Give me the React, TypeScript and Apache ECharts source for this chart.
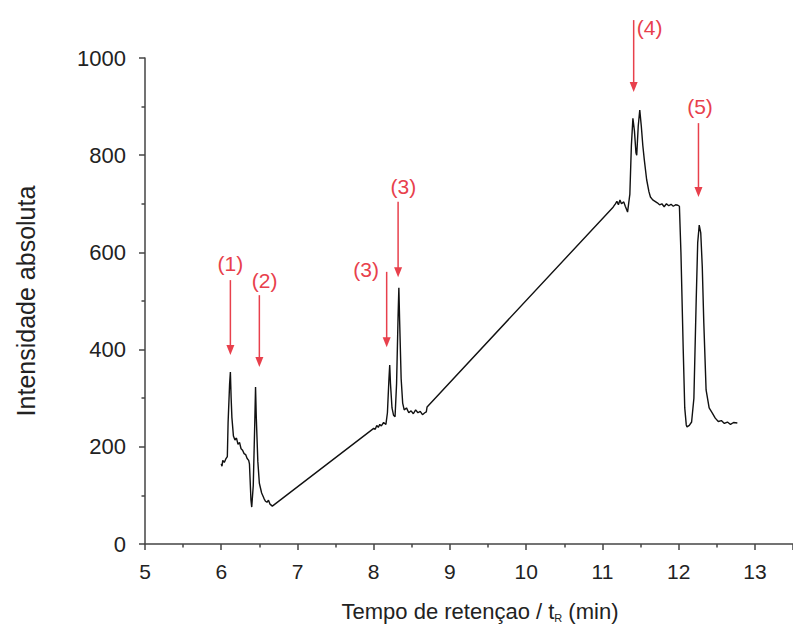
import React, { useEffect, useRef } from "react";
import * as echarts from "echarts";

// Retention time (min) / absolute intensity
const peaks12: [number, number][] = [
  [6.0, 165], [6.01, 160], [6.02, 172], [6.04, 168], [6.06, 175], [6.08, 180],
  [6.09, 250], [6.11, 330], [6.12, 354], [6.13, 300], [6.14, 260], [6.16, 222],
  [6.18, 214], [6.2, 218], [6.22, 205], [6.24, 209], [6.26, 196], [6.28, 193],
  [6.3, 186], [6.32, 184], [6.34, 176], [6.36, 172], [6.37, 165], [6.39, 90],
  [6.4, 76], [6.42, 120], [6.44, 250], [6.45, 323], [6.46, 260], [6.48, 170],
  [6.5, 125], [6.53, 105], [6.56, 94], [6.58, 88], [6.6, 86], [6.62, 90],
  [6.64, 82], [6.67, 78],
];
const peaks3: [number, number][] = [
  [8.0, 238], [8.02, 236], [8.04, 244], [8.06, 240], [8.08, 246], [8.1, 243],
  [8.13, 250], [8.16, 246], [8.18, 270], [8.2, 340], [8.21, 368], [8.22, 330],
  [8.24, 280], [8.26, 265], [8.28, 262], [8.3, 330], [8.32, 470], [8.33, 527],
  [8.34, 460], [8.36, 340], [8.38, 290], [8.4, 276], [8.43, 280], [8.46, 270],
  [8.49, 274], [8.52, 268], [8.55, 276], [8.58, 270], [8.61, 273], [8.64, 266],
  [8.67, 270], [8.69, 272], [8.7, 282],
];
const peaks45: [number, number][] = [
  [11.14, 693], [11.17, 700], [11.19, 705], [11.21, 698], [11.23, 708], [11.25, 700],
  [11.28, 704], [11.3, 695], [11.33, 683], [11.36, 720], [11.38, 820], [11.4, 876],
  [11.42, 850], [11.44, 805], [11.45, 800], [11.47, 860], [11.49, 893], [11.51, 860],
  [11.53, 820], [11.55, 790], [11.58, 750], [11.61, 725], [11.63, 714], [11.66, 708],
  [11.69, 705], [11.72, 702], [11.75, 698], [11.78, 700], [11.81, 694], [11.84, 700],
  [11.87, 696], [11.9, 699], [11.93, 695], [11.96, 698], [11.99, 697], [12.01, 695],
  [12.03, 600], [12.06, 400], [12.08, 280], [12.1, 245], [12.11, 241], [12.14, 244],
  [12.17, 251], [12.2, 300], [12.23, 500], [12.25, 620], [12.27, 656], [12.29, 640],
  [12.31, 570], [12.33, 455], [12.36, 317], [12.4, 280], [12.44, 270], [12.48, 259],
  [12.52, 252], [12.56, 254], [12.6, 248], [12.64, 251], [12.68, 246], [12.72, 250],
  [12.77, 249],
];

// Peak annotations: label, arrow x, arrow start y, arrow tip y, label x, label y (data units)
const annLabels = ["(1)", "(2)", "(3)", "(3)", "(4)", "(5)"];
const annArrowX = [6.12, 6.5, 8.17, 8.32, 11.41, 12.26];
const annArrowFrom = [543, 512, 560, 704, 1078, 866];
const annArrowTo = [389, 364, 405, 549, 930, 714];
const annLabelX = [6.12, 6.57, 7.9, 8.39, 11.62, 12.28];
const annLabelY = [578, 543, 564, 735, 1062, 901];

const xTicks = { min: 5, max: 13.5, interval: 1 };
const yTicks = { min: 0, max: 1000, interval: 200 };

const FONT = "Liberation Sans, Arial, sans-serif";
const RED = "#e8404c";
const INK = "#222";

export default function App() {
  const ref = useRef<HTMLDivElement>(null);
  useEffect(() => {
    if (!ref.current) return;
    const chart = echarts.init(ref.current, undefined, { renderer: "svg" });
    const data = [...peaks12, ...peaks3, ...peaks45];
    const axisCommon = {
      axisLine: { show: true, lineStyle: { color: "#444", width: 1.5 } },
      axisTick: { show: true, length: 6, lineStyle: { color: "#444", width: 1.5 } },
      minorTick: { show: true, splitNumber: 2, length: 3.5, lineStyle: { color: "#444", width: 1.5 } },
      splitLine: { show: false },
    };
    chart.setOption({
      animation: false,
      backgroundColor: "#fff",
      grid: { left: 145, top: 58, width: 651, height: 486, containLabel: false },
      xAxis: {
        type: "value",
        ...xTicks,
        ...axisCommon,
        axisLabel: {
          showMaxLabel: false,
          fontSize: 21,
          fontFamily: FONT,
          color: INK,
          margin: 17,
          formatter: (v: number) => String(v),
        },
        name: "Tempo de retençao / t{sub|R} (min)",
        nameLocation: "middle",
        nameGap: 55,
        nameTextStyle: {
          fontSize: 22,
          fontFamily: FONT,
          color: INK,
          padding: [0, 0, 0, 22],
          rich: {
            sub: { fontSize: 11, fontFamily: FONT, color: INK, verticalAlign: "bottom", padding: [13, 0, 0, 0] },
          },
        },
      },
      yAxis: {
        type: "value",
        ...yTicks,
        ...axisCommon,
        axisLabel: {
          fontSize: 22,
          fontFamily: FONT,
          color: INK,
          margin: 19,
          formatter: (v: number) => String(v),
        },
        name: "Intensidade absoluta",
        nameLocation: "middle",
        nameGap: 107,
        nameTextStyle: { fontSize: 25, fontFamily: FONT, color: INK },
      },
      series: [
        {
          type: "line",
          data,
          showSymbol: false,
          symbol: "none",
          lineStyle: { color: "#111", width: 1.4 },
          clip: false,
        },
      ],
    });

    const graphics: any[] = [];
    annLabels.forEach((lab, i) => {
      const p0 = chart.convertToPixel({ gridIndex: 0 }, [annArrowX[i], annArrowFrom[i]]) as number[];
      const p1 = chart.convertToPixel({ gridIndex: 0 }, [annArrowX[i], annArrowTo[i]]) as number[];
      const pl = chart.convertToPixel({ gridIndex: 0 }, [annLabelX[i], annLabelY[i]]) as number[];
      graphics.push({
        type: "line",
        shape: { x1: p0[0], y1: p0[1], x2: p1[0], y2: p1[1] - 8 },
        style: { stroke: RED, lineWidth: 1.5 },
        silent: true,
      });
      graphics.push({
        type: "polygon",
        shape: { points: [[p1[0] - 4, p1[1] - 10], [p1[0] + 4, p1[1] - 10], [p1[0], p1[1]]] },
        style: { fill: RED },
        silent: true,
      });
      graphics.push({
        type: "text",
        x: pl[0],
        y: pl[1],
        style: {
          text: lab,
          fill: RED,
          font: `21px ${FONT}`,
          align: "center",
          verticalAlign: "middle",
        },
        silent: true,
      });
    });
    chart.setOption({ graphic: graphics });

    return () => chart.dispose();
  }, []);
  return (
    <div
      ref={ref}
      style={{ position: "fixed", left: 0, top: 0, width: 793, height: 631, background: "#fff" }}
    />
  );
}
